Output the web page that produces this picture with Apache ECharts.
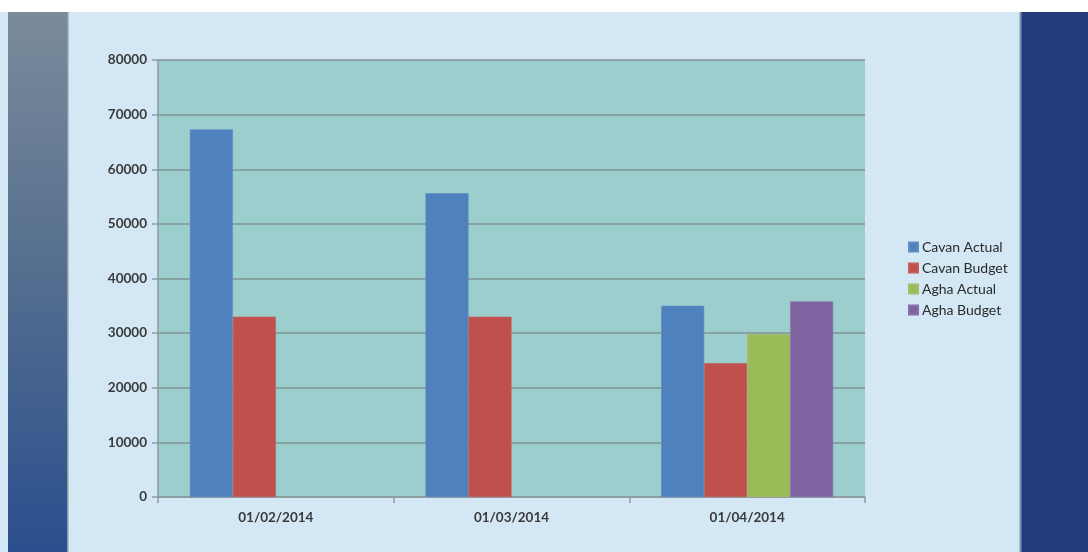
<!DOCTYPE html>
<html>
<head>
<meta charset="utf-8">
<script src="https://cdn.jsdelivr.net/npm/echarts@6/dist/echarts.min.js"></script>
<style>
  html, body { margin: 0; padding: 0; background: #ffffff; }
  #chart { width: 1088px; height: 552px; }
</style>
</head>
<body>
<div id="chart"></div>
<script>
// Months shown on the category axis
const months = ['01/02/2014', '01/03/2014', '01/04/2014'];

// Monthly values per series (Agha only reported for April)
const cavanActual = [67300, 55600, 35000];
const cavanBudget = [33000, 33000, 24500];
const aghaActual  = [null, null, 29800];
const aghaBudget  = [null, null, 35800];

const seriesNames = ['Cavan Actual', 'Cavan Budget', 'Agha Actual', 'Agha Budget'];
const seriesColors = ['#4f81bd', '#c0504d', '#9bbb59', '#8064a2'];
const seriesData = [cavanActual, cavanBudget, aghaActual, aghaBudget];

// Value axis range
const yMin = 0, yMax = 80000, yStep = 10000;

const chart = echarts.init(document.getElementById('chart'), null, { renderer: 'canvas' });

const labelFont = {
  color: '#3a3a3a',
  fontFamily: 'Lato, "Open Sans", sans-serif',
  fontWeight: 'bold',
  fontSize: 13.5
};

chart.setOption({
  backgroundColor: '#ffffff',
  animation: false,
  graphic: [
    // slide backdrop
    { type: 'rect', z: -10, shape: { x: 0, y: 12, width: 1088, height: 540 }, style: { fill: '#d3e7f4' } },
    // left side panel
    { type: 'rect', z: -9, shape: { x: 8, y: 12, width: 60, height: 540 },
      style: { fill: new echarts.graphic.LinearGradient(0, 0, 0, 1, [
        { offset: 0, color: '#7b8b9b' },
        { offset: 0.45, color: '#56708f' },
        { offset: 1, color: '#2b4f8e' }
      ]) } },
    { type: 'rect', z: -9, shape: { x: 67, y: 12, width: 1.5, height: 540 }, style: { fill: '#8a9aa8' } },
    // right side panel
    { type: 'rect', z: -9, shape: { x: 1020, y: 12, width: 68, height: 540 }, style: { fill: '#233c7c' } },
    { type: 'rect', z: -9, shape: { x: 1019.5, y: 12, width: 2, height: 540 }, style: { fill: '#7d94b0' } }
  ],
  grid: {
    left: 158, top: 60, right: 223, bottom: 55,
    show: true,
    backgroundColor: '#9bcecc',
    borderWidth: 0
  },
  legend: {
    orient: 'vertical',
    left: 903,
    top: 235,
    itemWidth: 9,
    itemHeight: 9,
    itemGap: 7,
    icon: 'rect',
    textStyle: {
      color: '#2a2a2a',
      fontFamily: 'Lato, "Open Sans", sans-serif',
      fontSize: 14,
      padding: [0, 0, 0, -1]
    },
    data: seriesNames
  },
  xAxis: {
    type: 'category',
    data: months,
    axisLine: { show: true, lineStyle: { color: '#8e9a9e', width: 1.5 } },
    axisTick: { show: true, alignWithLabel: false, length: 6, lineStyle: { color: '#8e9a9e', width: 1.5 } },
    axisLabel: Object.assign({ margin: 14 }, labelFont),
    splitLine: { show: false }
  },
  yAxis: {
    type: 'value',
    min: yMin,
    max: yMax,
    interval: yStep,
    axisLine: { show: true, lineStyle: { color: '#8e9a9e', width: 1.5 } },
    axisTick: { show: true, length: 6, lineStyle: { color: '#8e9a9e', width: 1.5 } },
    axisLabel: Object.assign({ margin: 11, formatter: v => String(v) }, labelFont),
    splitLine: { show: true, lineStyle: { color: '#7f9494', width: 1.5 } }
  },
  series: seriesNames.map((name, i) => ({
    name: name,
    type: 'bar',
    data: seriesData[i],
    barWidth: 43,
    barGap: '0%',
    itemStyle: { color: seriesColors[i], borderColor: echarts.color.lift(seriesColors[i], 0.08), borderWidth: 0.6 }
  }))
});
</script>
</body>
</html>
